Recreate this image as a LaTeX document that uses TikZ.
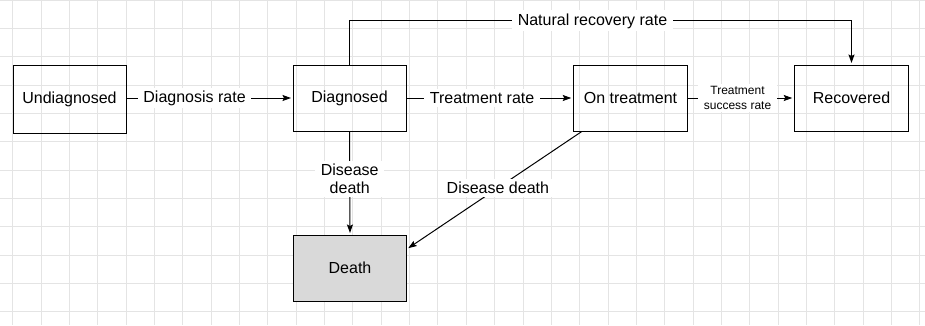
\documentclass[tikz,border=0pt]{standalone}
\usepackage{fontspec}
\setmainfont{Liberation Sans}
\usetikzlibrary{arrows.meta}

\definecolor{gridgray}{RGB}{228,228,228}
\definecolor{deathfill}{RGB}{217,217,217}

\tikzset{
  stage/.style={draw=black, line width=1pt, minimum width=113pt, minimum height=66pt,
    inner sep=0pt, font=\fontsize{16}{19}\selectfont},
  rate/.style={fill=white, inner xsep=5.5pt, inner ysep=3pt, align=center,
    font=\fontsize{16}{17.5}\selectfont},
  smallrate/.style={rate, font=\fontsize{12}{14.3}\selectfont},
  flow/.style={draw=black, line width=1pt, shorten >=1.5pt,
    -{Stealth[length=8.5pt, width=6pt, inset=1.5pt]}},
  gridline/.style={draw=gridgray, line width=1pt}
}

\begin{document}
\begin{tikzpicture}[x=1pt, y=-1pt]
  % canvas and background grid
  \fill[white] (0,0) rectangle (925,325);
  \useasboundingbox (0,0) rectangle (925,325);
  \foreach \i in {0,...,32}
    \draw[gridline] ({12.7+\i*28.35},0) -- ({12.7+\i*28.35},325);
  \foreach \j in {0,...,11}
    \draw[gridline] (0,{\j*28.35}) -- (925,{\j*28.35});

  % compartments
  \node[stage, minimum height=68pt] (und) at (69.5,99) {Undiagnosed};
  \node[stage] (dia) at (349.5,98) {Diagnosed};
  \node[stage, minimum width=114.5pt] (ont) at (630.5,98) {On treatment};
  \node[stage, minimum width=114.5pt] (rec) at (851.5,98) {Recovered};
  \node[stage, fill=deathfill] (dth) at (350,268) {Death};

  % flows between compartments
  \draw[flow] (und.east |- dia.east) -- node[rate, pos=0.41] {Diagnosis rate} (dia.west);
  \draw[flow] (dia.east) -- node[rate, pos=0.455] {Treatment rate} (ont.west);
  \draw[flow] (ont.east) -- node[smallrate, pos=0.467] {Treatment\\success rate} (rec.west);
  \draw[flow] (dia.north) -- ++(0,-43.6) -| node[rate, pos=0.242] {Natural recovery rate} (rec.north);
  \draw[flow] (dia.south) -- node[rate, pos=0.46] {Disease\\death} (dth.north);
  \draw[flow] ([xshift=9pt]ont.south west) -- node[rate, pos=0.48] {Disease death} ([yshift=19pt]dth.east);
\end{tikzpicture}
\end{document}
